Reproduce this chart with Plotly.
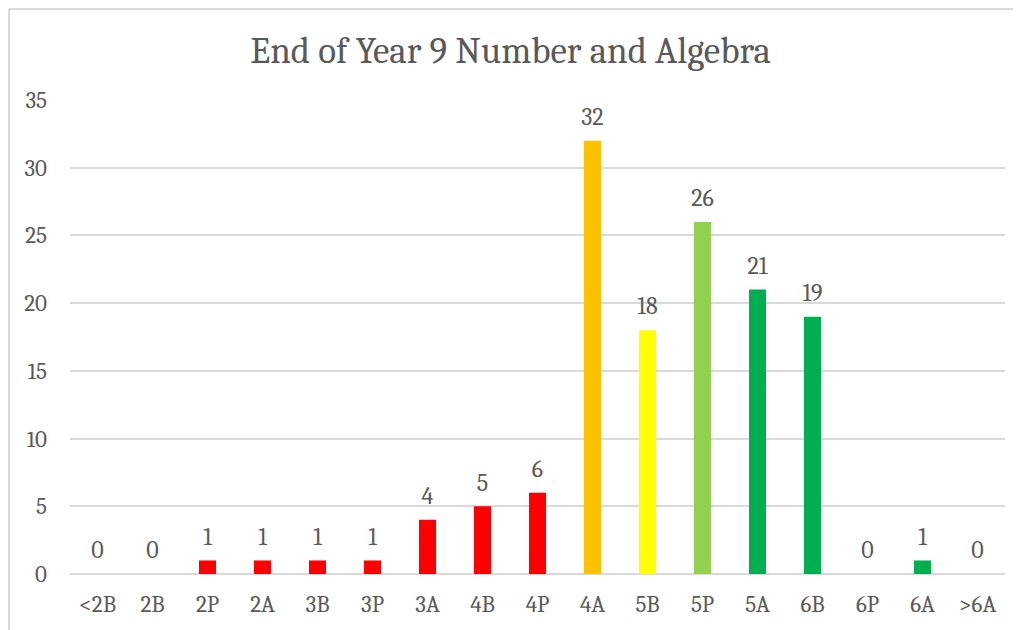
import plotly.graph_objects as go

levels = ["<2B", "2B", "2P", "2A", "3B", "3P", "3A", "4B", "4P",
          "4A", "5B", "5P", "5A", "6B", "6P", "6A", ">6A"]
counts = [0, 0, 1, 1, 1, 1, 4, 5, 6, 32, 18, 26, 21, 19, 0, 1, 0]
bar_colors = ["#FF0000"] * 9 + ["#FFC000", "#FFFF00", "#92D050",
                                "#00B050", "#00B050", "#00B050", "#00B050", "#00B050"]

serif = "Cambria, 'DejaVu Serif', serif"
grey = "#595959"
edge = "#D9D9D9"

# page body has an 8px margin, so the figure starts 8px in from the window edge
W, H = 1005, 622
L, R, T, B = 62, 8, 92, 56

fig = go.Figure()
fig.add_trace(go.Bar(
    x=levels, y=counts,
    marker=dict(color=bar_colors, line=dict(width=0)),
    hoverinfo="x+y",
))
# data labels: invisible markers push the text a bit above the bar tops
fig.add_trace(go.Scatter(
    x=levels, y=counts,
    mode="markers+text",
    marker=dict(size=14, opacity=0),
    text=[str(c) for c in counts],
    textposition="top center",
    textfont=dict(family=serif, size=24, color=grey),
    hoverinfo="skip",
    cliponaxis=False,
))

fig.update_layout(
    width=W, height=H,
    margin=dict(l=L, r=R, t=T, b=B),
    paper_bgcolor="white", plot_bgcolor="white",
    bargap=0.69,
    showlegend=False,
    title=dict(text="End of Year 9 Number and Algebra", x=0.5, xanchor="center",
               y=1 - 42 / H, yanchor="middle",
               font=dict(family=serif, size=37, color=grey)),
    xaxis=dict(range=[-0.5, len(levels) - 0.5], showgrid=False, showline=False,
               ticks="", ticklen=0, ticklabelstandoff=14,
               tickfont=dict(family=serif, size=23, color=grey)),
    yaxis=dict(range=[0, 35], dtick=5, showgrid=True, gridcolor=edge,
               gridwidth=1.5, zeroline=True, zerolinecolor=edge,
               zerolinewidth=1.5, ticks="", ticklabelstandoff=22,
               tickfont=dict(family=serif, size=23, color=grey)),
)

# chart border: only the top and left edges fall inside the window
pw = W - L - R
ph = H - T - B
fig.add_shape(type="line", xref="paper", yref="paper",
              x0=-(L - 1) / pw, x1=(pw + R) / pw,
              y0=1 + (T - 1) / ph, y1=1 + (T - 1) / ph,
              line=dict(color=edge, width=2))
fig.add_shape(type="line", xref="paper", yref="paper",
              x0=-(L - 1) / pw, x1=-(L - 1) / pw,
              y0=-B / ph, y1=1 + (T - 1) / ph,
              line=dict(color=edge, width=2))

fig.write_html("out.html")
